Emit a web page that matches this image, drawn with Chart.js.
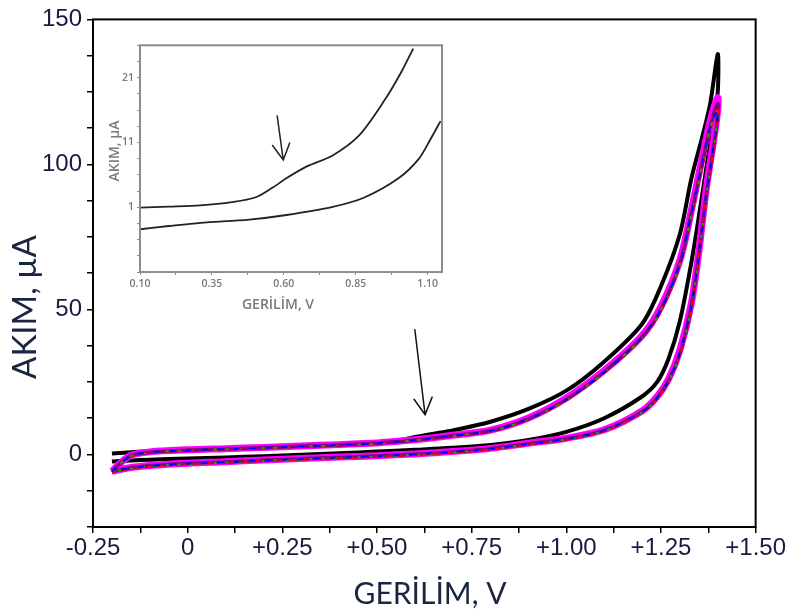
<!DOCTYPE html>
<html>
<head>
<meta charset="utf-8">
<script src="https://cdn.jsdelivr.net/npm/chart.js@4.4.1/dist/chart.umd.min.js"></script>
<style>
  body { margin: 0; background: #fff; }
  #wrap { position: relative; width: 787px; height: 616px; }
  #main { position: absolute; left: 0; top: 0; }
  #inset { position: absolute; left: 100px; top: 36px; }
</style>
</head>
<body>
<div id="wrap">
  <canvas id="main" width="787" height="616"></canvas>
  <canvas id="inset" width="350" height="280"></canvas>
</div>
<script>
// potential sweep: forward to +1.40 V, then back to -0.20 V
var sweepV = [-0.20, -0.18, -0.15, -0.10, 0.00, 0.10, 0.20, 0.30, 0.40, 0.50, 0.55, 0.60, 0.65, 0.70,
  0.80, 0.90, 1.00, 1.10, 1.20, 1.25, 1.30, 1.33, 1.36, 1.38, 1.40,
  1.40, 1.39, 1.37, 1.35, 1.33, 1.30, 1.27, 1.24, 1.20, 1.10, 1.00, 0.90, 0.80, 0.70, 0.60,
  0.50, 0.40, 0.30, 0.20, 0.10, 0.00, -0.10, -0.15, -0.20];

// current (uA) for each cycle
var cycle1I = [0.3, 0.5, 0.8, 1.1, 1.6, 2.0, 2.4, 2.9, 3.3, 3.9, 4.6, 6.0, 7.2, 8.3,
  11.3, 15.7, 22, 32, 45, 58, 76, 95, 110, 121, 138,
  125, 116, 99, 82, 66, 46, 33, 25, 20, 12.5, 7.8, 5.0, 3.3, 2.3, 1.6,
  1.0, 0.4, -0.1, -0.6, -1.0, -1.4, -1.8, -2.1, -2.4];
var cycle2I = [-5.8, -3.2, -0.3, 0.9, 1.6, 2.0, 2.4, 2.9, 3.4, 4.0, 4.5, 5.1, 5.8, 6.6,
  8.4, 12.6, 19.5, 29, 41, 51, 67, 84, 103, 115, 123,
  119, 109, 92, 70, 52, 36, 26, 20, 15, 8.5, 5.6, 3.9, 2.1, 1.0, 0.2,
  -0.4, -0.9, -1.4, -1.9, -2.5, -3.0, -3.8, -4.5, -5.8];
var cycle3I = [-5.9, -3.3, -0.4, 0.8, 1.5, 1.9, 2.3, 2.8, 3.3, 3.9, 4.4, 5.0, 5.7, 6.5,
  8.2, 12.3, 19.0, 28.5, 40.5, 50, 66, 83, 101, 113, 121,
  117, 107, 90, 69, 51, 35, 25.5, 19.5, 14.7, 8.3, 5.4, 3.7, 2.0, 0.9, 0.1,
  -0.5, -1.0, -1.5, -2.0, -2.6, -3.1, -3.9, -4.6, -5.9];
var cycle4I = [-6.2, -3.5, -0.6, 0.6, 1.3, 1.7, 2.1, 2.6, 3.1, 3.7, 4.2, 4.8, 5.5, 6.3,
  8.0, 12.0, 18.6, 28, 40, 49.5, 65, 82, 100, 112, 120,
  116, 106, 89, 68, 50, 34.5, 25, 19, 14.3, 8.0, 5.1, 3.4, 1.7, 0.6, -0.2,
  -0.8, -1.3, -1.8, -2.3, -2.9, -3.4, -4.2, -4.9, -6.2];
var cycle5I = [-6.0, -3.4, -0.5, 0.7, 1.4, 1.8, 2.2, 2.7, 3.2, 3.8, 4.3, 4.9, 5.6, 6.4,
  8.1, 12.1, 18.8, 28.2, 40.3, 49.8, 65.5, 82.5, 100.5, 112.5, 119,
  116.5, 106.5, 89.5, 68.5, 50.5, 34.8, 25.2, 19.2, 14.5, 8.1, 5.2, 3.5, 1.8, 0.7, -0.1,
  -0.7, -1.2, -1.7, -2.2, -2.8, -3.3, -4.1, -4.8, -6.0];
var cycle6I = [-6.0, -3.3, -0.5, 0.8, 1.5, 1.9, 2.3, 2.8, 3.3, 3.9, 4.4, 5.0, 5.7, 6.5,
  8.2, 12.2, 18.9, 28.3, 40.5, 50, 66, 83, 101, 113, 119,
  117, 107, 90, 69, 51, 35, 25.5, 19.5, 14.7, 8.3, 5.4, 3.7, 2.0, 0.9, 0.1,
  -0.5, -1.0, -1.5, -2.0, -2.6, -3.1, -3.9, -4.6, -6.0];

// inset: zoom of the first cycle
var insetUpV = [0.10, 0.20, 0.31, 0.42, 0.50, 0.56, 0.61, 0.68, 0.77, 0.86, 0.95, 1.01, 1.05];
var insetUpI = [0.95, 1.1, 1.3, 1.8, 2.5, 4.0, 5.5, 7.3, 9.0, 12.0, 17.5, 22, 25.5];
var insetLowV = [0.10, 0.20, 0.31, 0.48, 0.61, 0.77, 0.88, 1.00, 1.07, 1.11, 1.145];
var insetLowI = [-2.4, -1.9, -1.4, -0.9, -0.2, 1.05, 2.5, 5.5, 8.5, 11.5, 14.3];

// ticks and their labels
var mainXTicks = [-0.25, -0.125, 0, 0.125, 0.25, 0.375, 0.5, 0.625, 0.75, 0.875, 1, 1.125, 1.25, 1.375, 1.5];
var mainXLabels = ['-0.25', '', '0', '', '+0.25', '', '+0.50', '', '+0.75', '', '+1.00', '', '+1.25', '', '+1.50'];
var mainYTicks = [-25, -12.5, 0, 12.5, 25, 37.5, 50, 62.5, 75, 87.5, 100, 112.5, 125, 137.5, 150];
var mainYLabels = ['', '', '0', '', '', '', '50', '', '', '', '100', '', '', '', '150'];
var insetXTicks = [0.10, 0.225, 0.35, 0.475, 0.60, 0.725, 0.85, 0.975, 1.10];
var insetXLabels = ['0.10', '', '0.35', '', '0.60', '', '0.85', '', '1.10'];
var insetYTicks = [-9, -6.5, -4, -1.5, 1, 3.5, 6, 8.5, 11, 13.5, 16, 18.5, 21, 23.5, 26];
var insetYLabels = ['', '', '', '', '1', '', '', '', '11', '', '', '', '21', '', ''];

// arrows [x1, y1, x2, y2] in data units
var mainArrow = [0.600, 43, 0.627, 13.7];
var insetArrow = [0.577, 15.1, 0.598, 8.3];

function pts(v, i) {
  return v.map(function (x, k) { return { x: x, y: i[k] }; });
}

function axis(min, max, ticks, labels, o) {
  return {
    type: 'linear', min: min, max: max,
    afterBuildTicks: function (s) { s.ticks = ticks.map(function (v) { return { value: v }; }); },
    afterFit: function (s) { if (o.width) s.width = o.width; if (o.height) s.height = o.height; },
    grid: { display: true, drawOnChartArea: false, drawTicks: true, tickLength: o.tickLen,
            color: o.tickColor, lineWidth: o.tickWidth },
    border: { display: false },
    ticks: {
      autoSkip: false, maxRotation: 0, padding: o.pad, color: o.color,
      font: { family: o.family, size: o.size, weight: o.weight || 'normal' },
      callback: function (v, idx) { return labels[idx]; }
    }
  };
}

// frame, arrow and axis titles
var extras = {
  id: 'extras',
  afterDraw: function (chart, args, opts) {
    var ctx = chart.ctx, a = chart.chartArea;
    var xs = chart.scales.x, ys = chart.scales.y;
    ctx.save();
    ctx.strokeStyle = opts.frameColor;
    ctx.lineWidth = opts.frameWidth;
    ctx.strokeRect(a.left, a.top, a.right - a.left, a.bottom - a.top);

    var r = opts.arrow;
    var x1 = xs.getPixelForValue(r[0]), y1 = ys.getPixelForValue(r[1]);
    var x2 = xs.getPixelForValue(r[2]), y2 = ys.getPixelForValue(r[3]);
    var ang = Math.atan2(y2 - y1, x2 - x1);
    ctx.strokeStyle = opts.arrowColor;
    ctx.lineWidth = opts.arrowWidth;
    ctx.lineCap = 'round';
    ctx.beginPath();
    ctx.moveTo(x1, y1); ctx.lineTo(x2, y2);
    ctx.moveTo(x2 - opts.head * Math.cos(ang - 0.5), y2 - opts.head * Math.sin(ang - 0.5));
    ctx.lineTo(x2, y2);
    ctx.lineTo(x2 - opts.head * Math.cos(ang + 0.5), y2 - opts.head * Math.sin(ang + 0.5));
    ctx.stroke();

    opts.titles.forEach(function (t) {
      ctx.save();
      ctx.translate(t.x, t.y);
      ctx.rotate(t.rot || 0);
      ctx.font = t.font;
      ctx.fillStyle = t.color;
      ctx.textAlign = 'center';
      ctx.textBaseline = 'middle';
      ctx.fillText(t.text, 0, 0);
      ctx.restore();
    });
    ctx.restore();
  }
};

var tickStyle = { family: '"Liberation Sans", Arial, sans-serif', size: 24, color: '#1a1a40',
                  tickLen: 6, tickColor: '#000', tickWidth: 1.5 };

new Chart(document.getElementById('main').getContext('2d'), {
  type: 'scatter',
  data: {
    datasets: [
      { label: '1', data: pts(sweepV, cycle1I), borderColor: '#000000', borderWidth: 4, order: 6 },
      { label: '2', data: pts(sweepV, cycle2I), borderColor: '#ff00ff', borderWidth: 7, order: 5 },
      { label: '3', data: pts(sweepV, cycle3I), borderColor: '#800080', borderWidth: 3.5, order: 4 },
      { label: '4', data: pts(sweepV, cycle4I), borderColor: '#ff0000', borderWidth: 2, borderDash: [5, 7], order: 3 },
      { label: '5', data: pts(sweepV, cycle5I), borderColor: '#00b000', borderWidth: 2, borderDash: [3, 9], order: 2 },
      { label: '6', data: pts(sweepV, cycle6I), borderColor: '#0000ff', borderWidth: 2, borderDash: [6, 10], order: 1 }
    ]
  },
  options: {
    responsive: false,
    animation: false,
    showLine: true,
    elements: { point: { radius: 0 }, line: { tension: 0.3, fill: false } },
    layout: { padding: { top: 17, right: 25, left: 0, bottom: 0 } },
    scales: {
      x: axis(-0.25, 1.5, mainXTicks, mainXLabels, Object.assign({ height: 89, pad: 1 }, tickStyle)),
      y: axis(-25, 150, mainYTicks, mainYLabels, Object.assign({ width: 93, pad: 5 }, tickStyle))
    },
    plugins: {
      legend: { display: false },
      tooltip: { enabled: false },
      extras: {
        frameColor: '#000', frameWidth: 2,
        arrow: mainArrow, arrowColor: '#111', arrowWidth: 1.5, head: 19,
        titles: [
          { text: 'AKIM, µA', x: 25, y: 307, rot: -Math.PI / 2, font: '33px Lato, "Open Sans", sans-serif', color: '#1a2540' },
          { text: 'GERİLİM, V', x: 430, y: 594, font: '30px Lato, "Open Sans", sans-serif', color: '#1a2540' }
        ]
      }
    }
  },
  plugins: [extras]
});

var insetTick = { family: '"Open Sans", sans-serif', size: 10.5, weight: '600', color: '#7a7a7a',
                  tickLen: 3, tickColor: '#8c8c8c', tickWidth: 1 };

new Chart(document.getElementById('inset').getContext('2d'), {
  type: 'scatter',
  data: {
    datasets: [
      { label: 'ileri', data: pts(insetUpV, insetUpI), borderColor: '#222', borderWidth: 1.8 },
      { label: 'geri', data: pts(insetLowV, insetLowI), borderColor: '#222', borderWidth: 1.8 }
    ]
  },
  options: {
    responsive: false,
    animation: false,
    showLine: true,
    elements: { point: { radius: 0 }, line: { tension: 0.3, fill: false } },
    layout: { padding: { top: 7, right: 8, left: 0, bottom: 0 } },
    scales: {
      x: axis(0.10, 1.15, insetXTicks, insetXLabels, Object.assign({ height: 44, pad: 3 }, insetTick)),
      y: axis(-9, 26, insetYTicks, insetYLabels, Object.assign({ width: 40, pad: 3 }, insetTick))
    },
    plugins: {
      legend: { display: false },
      tooltip: { enabled: false },
      extras: {
        frameColor: '#8c8c8c', frameWidth: 2,
        arrow: insetArrow, arrowColor: '#222', arrowWidth: 1.5, head: 18,
        titles: [
          { text: 'AKIM, µA', x: 15, y: 115, rot: -Math.PI / 2, font: '600 14px "Open Sans", sans-serif', color: '#7a7a7a' },
          { text: 'GERİLİM, V', x: 178, y: 269, font: '600 14px "Open Sans", sans-serif', color: '#7a7a7a' }
        ]
      }
    }
  },
  plugins: [extras]
});
</script>
</body>
</html>
